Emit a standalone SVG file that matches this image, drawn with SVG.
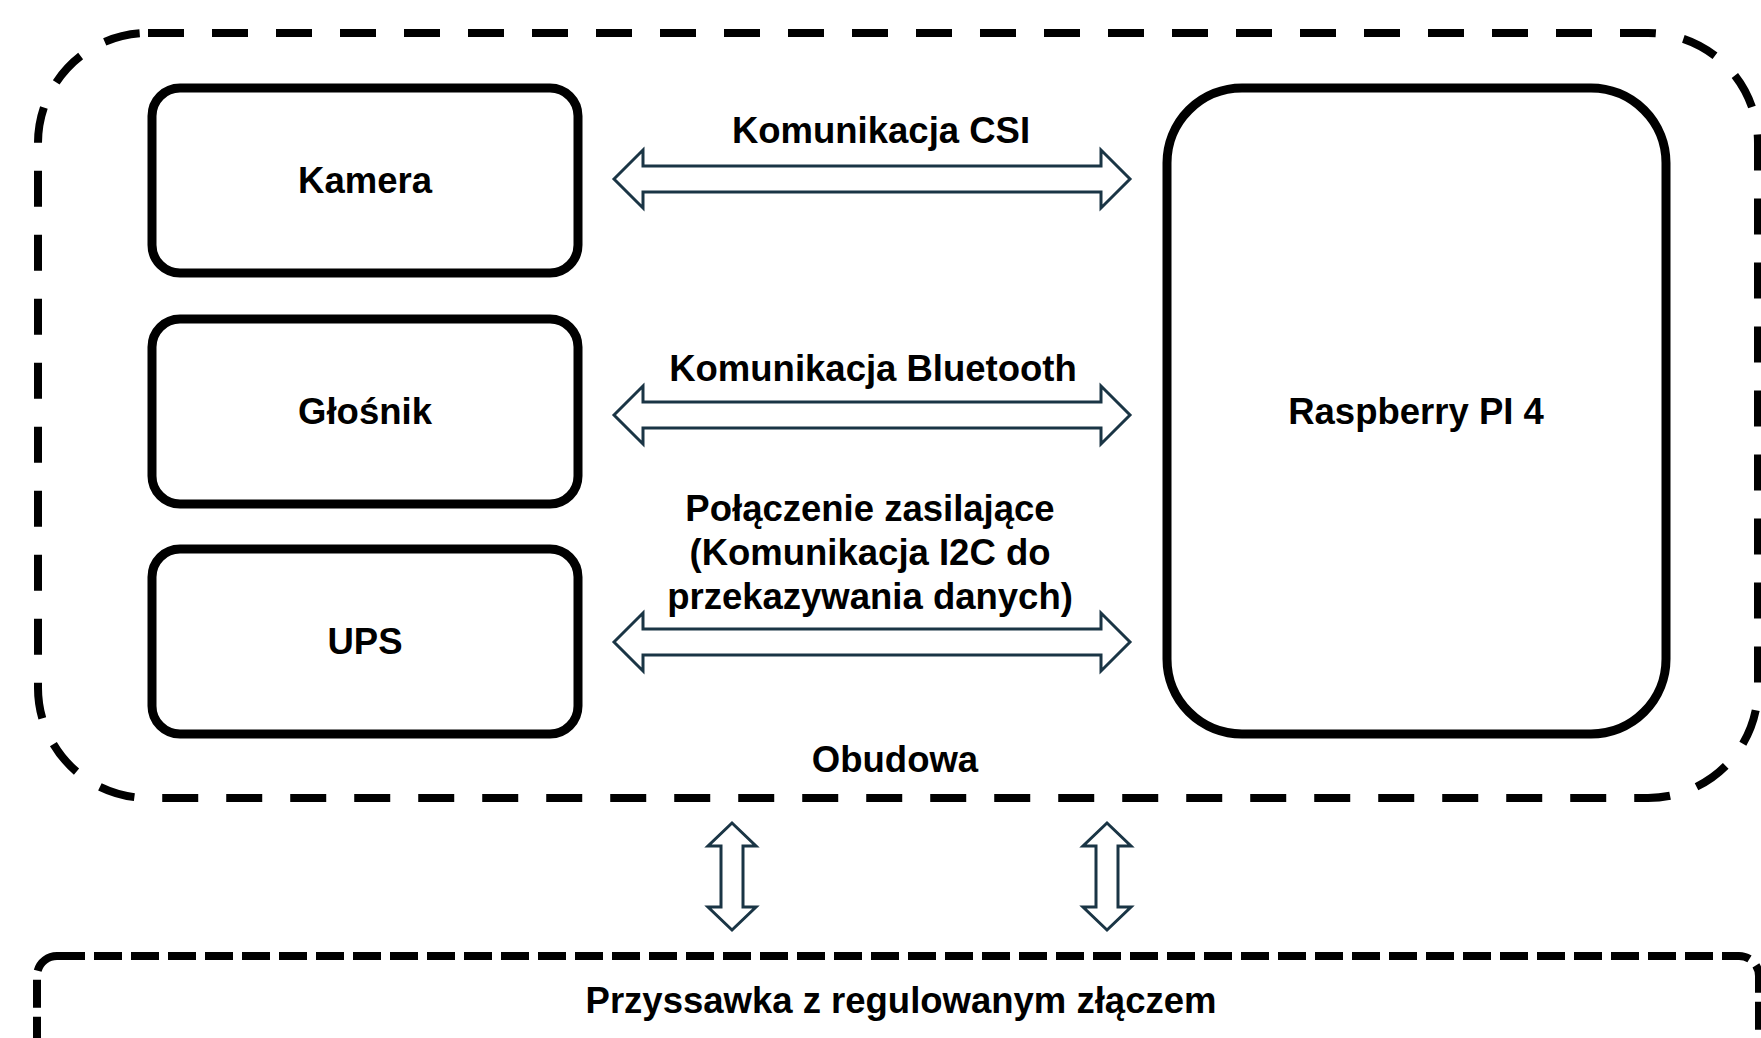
<svg xmlns="http://www.w3.org/2000/svg" width="1761" height="1038" viewBox="0 0 1761 1038" xmlns:xlink="http://www.w3.org/1999/xlink">
  <style>
    .box { fill: #ffffff; stroke: #000000; stroke-width: 9; }
    .container { fill: none; stroke: #000000; stroke-width: 8; stroke-dasharray: 36 28; }
    .base { fill: none; stroke: #000000; stroke-width: 8; stroke-dasharray: 28 9; }
    .lbl { font-family: "Liberation Sans", Arial, Helvetica, sans-serif; font-weight: bold; font-size: 36.5px; fill: #000000; text-anchor: middle; }
    .arrow { fill: #ffffff; stroke: #1a3545; stroke-width: 3; stroke-linejoin: miter; }
  </style>
  <defs>
    <path id="harrow" d="M0,0 L29,-29 L29,-13 L487,-13 L487,-29 L516,0 L487,29 L487,13 L29,13 L29,29 Z"/>
    <path id="varrow" d="M0,0 L24,23 L11,23 L11,84 L24,84 L0,107 L-24,84 L-11,84 L-11,23 L-24,23 Z"/>
  </defs>
  <rect width="1761" height="1038" fill="#ffffff"/>

  <g id="obudowa">
    <rect class="container" x="38" y="33" width="1720" height="765" rx="110" ry="110"/>
    <text class="lbl" x="895" y="772">Obudowa</text>
  </g>

  <g id="przyssawka">
    <rect class="base" x="37" y="956" width="1722" height="140" rx="20" ry="20"/>
    <text class="lbl" x="901" y="1013">Przyssawka z regulowanym złączem</text>
  </g>

  <g id="kamera">
    <rect class="box" x="152" y="88" width="426" height="185" rx="28" ry="28"/>
    <text class="lbl" x="365" y="193">Kamera</text>
  </g>

  <g id="glosnik">
    <rect class="box" x="152" y="319" width="426" height="185" rx="28" ry="28"/>
    <text class="lbl" x="365" y="424">Głośnik</text>
  </g>

  <g id="ups">
    <rect class="box" x="152" y="549" width="426" height="185" rx="28" ry="28"/>
    <text class="lbl" x="365" y="654">UPS</text>
  </g>

  <g id="raspberry">
    <rect class="box" x="1167" y="88" width="499" height="646" rx="75" ry="75"/>
    <text class="lbl" x="1416" y="424">Raspberry PI 4</text>
  </g>

  <g id="connectors">
    <use xlink:href="#harrow" class="arrow" transform="translate(614,179)"/>
    <use xlink:href="#harrow" class="arrow" transform="translate(614,415)"/>
    <use xlink:href="#harrow" class="arrow" transform="translate(614,642)"/>
    <use xlink:href="#varrow" class="arrow" transform="translate(732,823)"/>
    <use xlink:href="#varrow" class="arrow" transform="translate(1107,823)"/>
    <text class="lbl" x="881" y="143">Komunikacja CSI</text>
    <text class="lbl" x="873" y="381">Komunikacja Bluetooth</text>
    <text class="lbl" x="870" y="521">Połączenie zasilające</text>
    <text class="lbl" x="870" y="565">(Komunikacja I2C do</text>
    <text class="lbl" x="870" y="609">przekazywania danych)</text>
  </g>
</svg>
